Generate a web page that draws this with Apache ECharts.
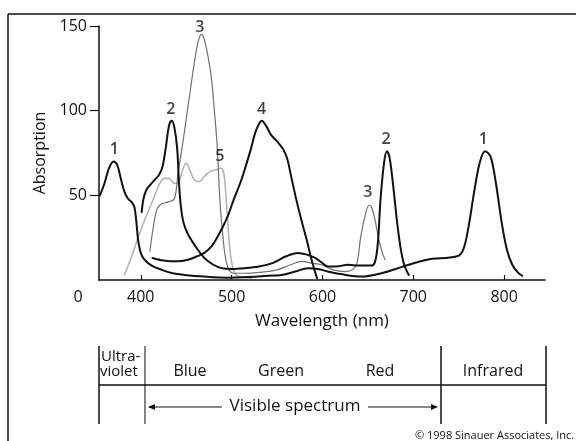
<!DOCTYPE html>
<html><head><meta charset="utf-8">
<script src="https://cdn.jsdelivr.net/npm/echarts@6/dist/echarts.min.js"></script>
<style>html,body{margin:0;padding:0;background:#fff}#c{width:576px;height:441px}</style>
</head><body><div id="c"></div>
<script>
// Wavelength (nm) vs absorption
const curve1 = [[355,50],[360,57],[365,66],[370,70],[374,68],[378,60],[382,52],[386,48],[390,46],[393,43],[395,35],[397,24],[400,16],[404,12],[412,8.5],[423,6],[435,4],[448,3],[470,2],[496,1.4],[520,1.8],[540,2.5],[555,3],[570,5],[584,7],[595,6.5],[606,5],[620,3.5],[643,2],[665,4],[689,8],[715,12],[748,14],[755,18],[761,32],[767,52],[773,69],[779,76],[785,73],[791,57],[797,35],[803,18],[809,9],[815,4.5],[820,2.5]];
const curve2 = [[401,40],[403,48],[406,53],[410,56],[415,59],[420,62],[424,67],[428,80],[431,91],[434,94],[437,90],[440,78],[442,58],[444,44],[447,34],[452,27],[460,20],[470,13],[480,9],[489,7],[500,6.5],[515,7],[530,8],[545,10],[560,14],[573,16],[583,15],[592,13],[600,10],[606,8],[615,8],[628,9],[640,8.5],[654,8.5],[658,11],[661,22],[664,48],[668,70],[671,76],[674,72],[678,55],[682,35],[686,19],[690,9],[695,3]];
const curve3 = [[410,17],[414,32],[418,42],[423,45],[430,46],[437,48],[441,63],[446,80],[450,95],[454,110],[458,125],[462,138],[465,144],[467,145],[470,142],[474,132],[478,118],[481,100],[484,80],[487,48],[490,28],[493,14],[497,6],[502,4],[515,4],[530,4.5],[550,6],[565,9],[577,11],[588,10],[599,9],[612,6],[625,5],[633,6],[638,10],[642,25],[647,38],[651,44],[654,43],[658,35],[662,24],[666,16],[669,12]];
const curve4 = [[413,13],[425,11.5],[440,11],[452,12],[462,14],[470,16],[478,20],[485,26],[490,31],[496,38],[502,47],[510,58],[516,68],[521,77],[526,87],[530,92],[533,94],[538,91],[543,86],[548,83],[553,80],[557,77],[561,72],[566,60],[571,48],[577,35],[583,23],[588,12],[594,1]];
const curve5 = [[382,3],[390,14],[399,28],[407,39],[414,48],[420,56],[426,60],[431,60],[437,57],[442,58],[446,65],[450,69],[454,65],[459,59],[464,58],[470,61],[476,64],[482,65],[488,66],[491,64],[493,55],[495,40],[497,25],[499,14],[502,6],[506,2.5],[515,1.5],[522,1]];
// curve number labels: [wavelength, absorption, text]
const curveLabels = [[371,77,'1'],[433,101,'2'],[465,149,'3'],[533,101,'4'],[487,73,'5'],[650,52,'3'],[670,83,'2'],[777,83,'1']];
const xTicks = [400,500,600,700,800];
const yTicks = [50,100,150];
const bandTop = ['Ultra-','violet'];
const bandNames = ['Blue','Green','Red','Infrared'];

const FONT = 'Open Sans';
const chart = echarts.init(document.getElementById('c'));
function ln(data, color, width, z){
  return {type:'line', data, smooth:0.35, symbol:'none', silent:true, z,
    lineStyle:{color, width, cap:'round', join:'round'}};
}
chart.setOption({
  animation:false,
  grid:{left:99, right:31, top:26, bottom:161},
  xAxis:{type:'value', min:354, max:845,
    name:'Wavelength (nm)', nameLocation:'middle', nameGap:33,
    nameTextStyle:{fontFamily:FONT, fontSize:17, color:'#111'},
    axisLine:{lineStyle:{color:'#111', width:1.5}},
    axisTick:{show:true, inside:true, length:5, customValues:xTicks, lineStyle:{color:'#111', width:1.2}},
    axisLabel:{customValues:xTicks, fontFamily:FONT, fontSize:16, color:'#111', margin:9},
    splitLine:{show:false}},
  yAxis:{type:'value', min:0, max:150,
    name:'Absorption', nameLocation:'middle', nameGap:47, nameRotate:90,
    nameTextStyle:{fontFamily:FONT, fontSize:16, color:'#111'},
    axisLine:{show:true, lineStyle:{color:'#111', width:1.5}},
    axisTick:{show:true, inside:false, length:9, customValues:yTicks, lineStyle:{color:'#111', width:1.2}},
    axisLabel:{customValues:yTicks, fontFamily:FONT, fontSize:16, color:'#111', margin:12},
    splitLine:{show:false}},
  series:[
    ln(curve5, '#b4b4b4', 1.6, 2),
    ln(curve3, '#707070', 1.2, 3),
    ln(curve4, '#111', 2, 4),
    ln(curve2, '#111', 2, 5),
    ln(curve1, '#111', 2, 6),
    {type:'scatter', data:curveLabels, symbolSize:1, itemStyle:{color:'rgba(0,0,0,0)'}, z:7,
      label:{show:true, position:'inside', formatter:p=>p.value[2], fontFamily:FONT, fontSize:16, fontWeight:600, color:'#111'}}
  ]
});

const T = (text,x,y,opt={}) => ({type:'text', silent:true, style:Object.assign({text, x, y, fill:'#111',
  font:(opt.size||16)+'px "'+FONT+'"', textAlign:opt.align||'center', textVerticalAlign:'middle', align:opt.align||'center', verticalAlign:'middle'}, opt.style||{})});
const L = (x1,y1,x2,y2,w=1.5,c='#111') => ({type:'line', silent:true, shape:{x1,y1,x2,y2}, style:{stroke:c, lineWidth:w}});
const g = [
  L(8,14,576,14,1.5), L(8,14,8,441,1.5),
  T('0',78,297),
  L(99,346,99,424), L(145,346,145,424,1.2,'#333'), L(441,346,441,424), L(546,346,546,424),
  L(99,385,546,385,1.3),
  T(bandTop[0],101,357,{align:'left', size:15}), T(bandTop[1],100,372,{align:'left', size:15}),
  T(bandNames[0],190,371), T(bandNames[1],281,371), T(bandNames[2],380,371), T(bandNames[3],493,371),
  L(149,407,222,407,1.2), L(368,407,436,407,1.2),
  {type:'polygon', silent:true, shape:{points:[[148,407],[155,404],[155,410]]}, style:{fill:'#111'}},
  {type:'polygon', silent:true, shape:{points:[[438,407],[431,404],[431,410]]}, style:{fill:'#111'}},
  T('Visible spectrum',295,406,{size:17}),
  T('© 1998 Sinauer Associates, Inc.',415,436,{align:'left', size:11})
];
chart.setOption({graphic:g});
</script></body></html>
